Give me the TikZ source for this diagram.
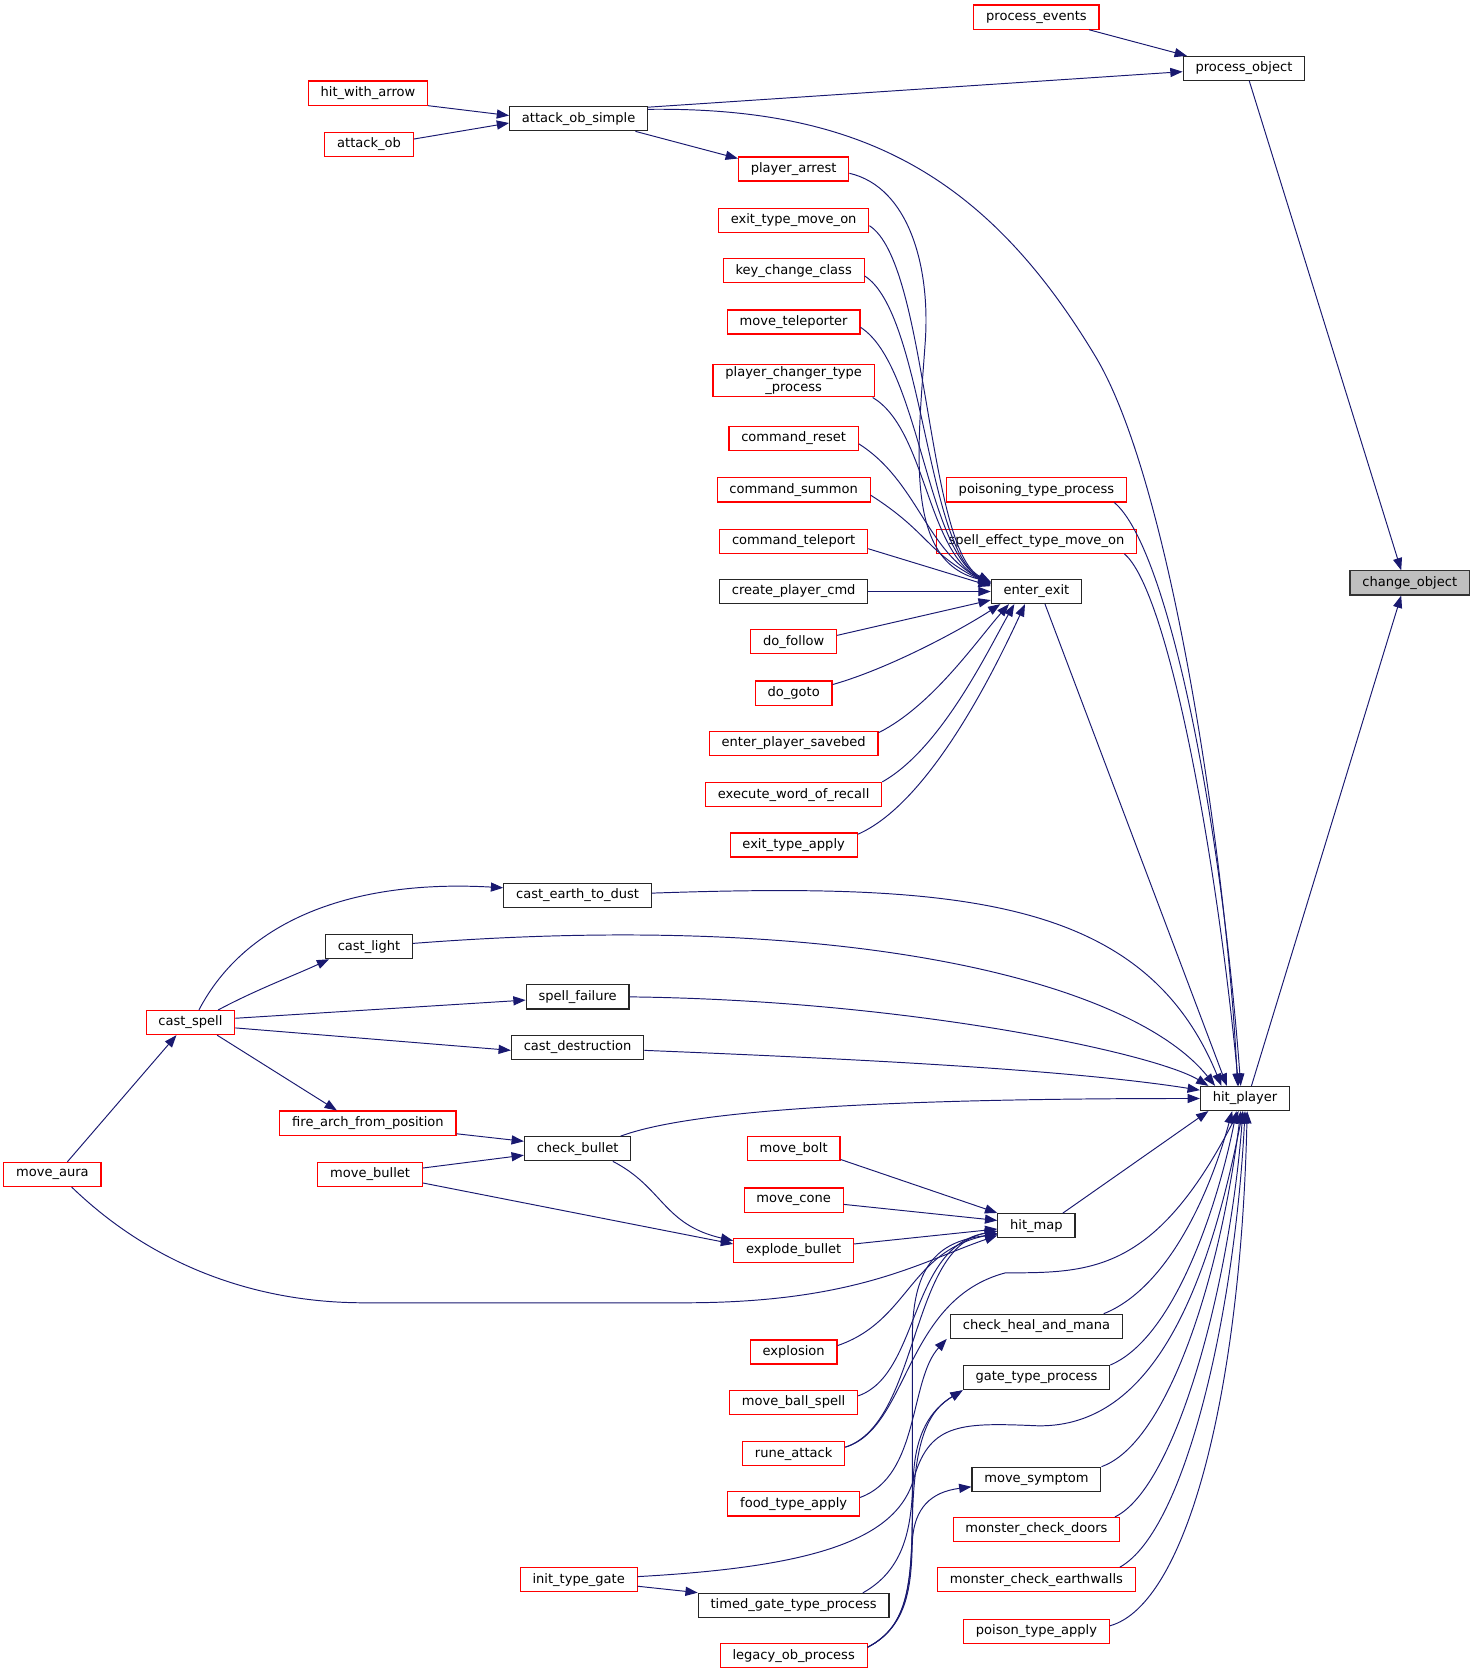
\documentclass[tikz,border=0pt]{standalone}
\usepackage{fontspec}
\setmainfont{DejaVu Sans}
\usepackage{tikz}
\usetikzlibrary{arrows.meta}
\definecolor{edgeblue}{HTML}{191970}
\definecolor{curgray}{HTML}{BFBFBF}
\definecolor{boxred}{HTML}{FF0000}

\begin{document}
\begin{tikzpicture}[x=1pt, y=1pt,
		fn/.style={rectangle, line width=1.1pt, inner xsep=11.5pt, inner ysep=2pt, minimum height=22.5pt, font=\fontsize{12.2}{14}\selectfont, align=center},
		fnred/.style={fn, draw=boxred},
		fnblack/.style={fn, draw=black!85},
		fncur/.style={fn, draw=black!80, fill=curgray},
		edge/.style={draw=edgeblue, line width=0.9pt, -{Triangle[length=11.5pt, width=8.5pt]}}]
			%%%%% START %%%%%
			
			\useasboundingbox (0,0) rectangle (1376,-1566);
			
			% right part
			\node[fnred] (pevents) at (969,-16) {process\_events};
			\node[fnblack] (pobject) at (1163,-64) {process\_object};
			\node[fncur] (change) at (1318,-545) {change\_object};
			\node[fnblack] (hplayer) at (1164,-1027) {hit\_player};
			
			% attack_ob_simple
			\node[fnred] (hwa) at (344,-87) {hit\_with\_arrow};
			\node[fnblack] (aos) at (541,-111) {attack\_ob\_simple};
			\node[fnred] (aob) at (345,-135) {attack\_ob};
			
			% callers of enter_exit
			\node[fnred] (parrest) at (742,-158) {player\_arrest};
			\node[fnred] (etmo) at (742,-206) {exit\_type\_move\_on};
			\node[fnred] (kcc) at (742,-253) {key\_change\_class};
			\node[fnred] (mtel) at (742,-301) {move\_teleporter};
			\node[fnred] (pctp) at (742,-356) {player\_changer\_type\\\_process};
			\node[fnred] (creset) at (742,-410) {command\_reset};
			\node[fnred] (csummon) at (742,-458) {command\_summon};
			\node[fnred] (cteleport) at (742,-506) {command\_teleport};
			\node[fnblack] (cpc) at (742,-553) {create\_player\_cmd};
			\node[fnred] (dfollow) at (742,-600) {do\_follow};
			\node[fnred] (dgoto) at (742,-648) {do\_goto};
			\node[fnred] (eps) at (742,-695) {enter\_player\_savebed};
			\node[fnred] (ewor) at (742,-743) {execute\_word\_of\_recall};
			\node[fnred] (eta) at (742,-790) {exit\_type\_apply};
			\node[fnblack] (eexit) at (969,-553) {enter\_exit};
			\node[fnred] (ptp) at (969,-458) {poisoning\_type\_process};
			\node[fnred] (setmo) at (969,-506) {spell\_effect\_type\_move\_on};
			
			% spells
			\node[fnblack] (cetd) at (540,-837) {cast\_earth\_to\_dust};
			\node[fnblack] (clight) at (345,-885) {cast\_light};
			\node[fnblack] (sfail) at (540,-932) {spell\_failure};
			\node[fnred] (cspell) at (178,-956) {cast\_spell};
			\node[fnblack] (cdest) at (540,-979) {cast\_destruction};
			\node[fnred] (fafp) at (344,-1050) {fire\_arch\_from\_position};
			\node[fnblack] (cbullet) at (540,-1074) {check\_bullet};
			\node[fnred] (maura) at (49,-1098) {move\_aura};
			\node[fnred] (mbullet) at (346,-1098) {move\_bullet};
			
			% hit_map and below
			\node[fnred] (mbolt) at (742,-1074) {move\_bolt};
			\node[fnred] (mcone) at (742,-1122) {move\_cone};
			\node[fnblack] (hmap) at (969,-1146) {hit\_map};
			\node[fnred] (ebullet) at (742,-1169) {explode\_bullet};
			\node[fnred] (explosion) at (742,-1264) {explosion};
			\node[fnblack] (chm) at (969,-1240) {check\_heal\_and\_mana};
			\node[fnred] (mbs) at (742,-1311) {move\_ball\_spell};
			\node[fnblack] (gtp) at (969,-1288) {gate\_type\_process};
			\node[fnred] (rattack) at (742,-1359) {rune\_attack};
			\node[fnblack] (msymptom) at (969,-1383) {move\_symptom};
			\node[fnred] (ftapply) at (742,-1406) {food\_type\_apply};
			\node[fnred] (mcd) at (969,-1430) {monster\_check\_doors};
			\node[fnred] (itgate) at (541,-1477) {init\_type\_gate};
			\node[fnred] (mce) at (969,-1477) {monster\_check\_earthwalls};
			\node[fnblack] (tgtp) at (742,-1501) {timed\_gate\_type\_process};
			\node[fnred] (potapply) at (969,-1525) {poison\_type\_apply};
			\node[fnred] (lop) at (742,-1548) {legacy\_ob\_process};
			
			% to change_object
			\draw[edge] ([xshift=5]pobject.south) -- ([xshift=-8]change.north);
			\draw[edge] ([xshift=6]hplayer.north) -- ([xshift=-8]change.south);
			\draw[edge] ([xshift=-10]pevents.south east) -- ([xshift=4]pobject.north west);
			\draw[edge] ([yshift=-1]aos.north east) -- ([yshift=-3]pobject.west);
			
			% attack_ob_simple
			\draw[edge] (hwa.south east) -- ([yshift=3]aos.west);
			\draw[edge] ([yshift=5]aob.east) -- ([yshift=-4]aos.west);
			\draw[edge] ([xshift=-12]aos.south east) -- ([yshift=-2]parrest.north west);
			\draw[edge] ([yshift=-3]aos.north east) .. controls (800,-100) and (920,-160) .. (1024,-333) .. controls (1097,-454) and (1148,-820) .. ([xshift=-7]hplayer.north);
			
			% enter_exit
			\draw[edge] ([yshift=-4]parrest.east) .. controls (850,-175) and (870,-250) .. (865,-320) .. controls (858,-420) and (845,-525) .. ([yshift=9]eexit.west);
			\foreach \src/\dy in {etmo/9,kcc/8,mtel/8,creset/7,csummon/6}
				\draw[edge] ([yshift=-5]\src.east) .. controls +(55,-35) and +(-60,30) .. ([yshift=\dy]eexit.west);
			\draw[edge] ([xshift=-2]pctp.south east) .. controls +(50,-30) and +(-60,30) .. ([yshift=7]eexit.west);
			\draw[edge] ([yshift=-7]cteleport.east) -- ([yshift=5]eexit.west);
			\draw[edge] (cpc.east) -- (eexit.west);
			\draw[edge] ([yshift=6]dfollow.east) -- ([yshift=-8]eexit.west);
			\draw[edge] ([yshift=8]dgoto.east) .. controls +(53,15) and +(-37,-24) .. ([xshift=9]eexit.south west);
			\draw[edge] ([yshift=10]eps.east) .. controls +(50,25) and +(-30,-34) .. ([xshift=17]eexit.south west);
			\draw[edge] ([yshift=12]ewor.east) .. controls +(55,31) and +(-25,-44) .. ([xshift=22]eexit.south west);
			\draw[edge] ([yshift=10]eta.east) .. controls +(69,30) and +(-25,-54) .. ([xshift=32]eexit.south west);
			
			% to hit_player from above
			\draw[edge] ([xshift=8]eexit.south) -- ([xshift=-17]hplayer.north);
			\draw[edge] ([xshift=-12]ptp.south east) .. controls (1090,-510) and (1140,-750) .. ([xshift=-4]hplayer.north);
			\draw[edge] ([xshift=-12]setmo.south east) .. controls (1090,-550) and (1135,-780) .. ([xshift=-6]hplayer.north);
			\draw[edge] ([yshift=2]cetd.east) .. controls (900,-825) and (1070,-840) .. ([xshift=-22]hplayer.north);
			\draw[edge] ([yshift=3]clight.east) .. controls (800,-850) and (1060,-920) .. ([xshift=-28]hplayer.north);
			\draw[edge] (sfail.east) .. controls (850,-935) and (1080,-985) .. ([xshift=8]hplayer.north west);
			\draw[edge] ([yshift=-3]cdest.east) .. controls (800,-990) and (1000,-1000) .. ([yshift=-4]hplayer.north west);
			\draw[edge] ([xshift=-10]cbullet.north east) .. controls (640,-1040) and (800,-1027) .. (hplayer.west);
			\draw[edge] ([xshift=-12]hmap.north east) -- ([xshift=8]hplayer.south west);
			
			% cast_spell
			\draw[edge] ([xshift=8]cspell.north) .. controls (230,-860) and (330,-822) .. ([yshift=7]cetd.west);
			\draw[edge] ([xshift=26]cspell.north) .. controls (240,-925) and (275,-912) .. ([xshift=4]clight.south west);
			\draw[edge] ([yshift=4]cspell.east) -- ([yshift=-3]sfail.west);
			\draw[edge] ([yshift=-5]cspell.east) -- ([yshift=-3]cdest.west);
			\draw[edge] ([xshift=25]cspell.south) -- ([xshift=-29]fafp.north);
			\draw[edge] ([xshift=14]maura.north) -- ([xshift=-13]cspell.south);
			\draw[edge] ([xshift=18]maura.south) .. controls (150,-1190) and (250,-1218) .. (340,-1218) -- (640,-1218) .. controls (800,-1218) and (860,-1180) .. ([yshift=-9]hmap.west);
			
			% bullets
			\draw[edge] ([yshift=-10]fafp.east) -- ([yshift=7]cbullet.west);
			\draw[edge] ([yshift=6]mbullet.east) -- ([yshift=-6]cbullet.west);
			\draw[edge] ([xshift=33]cbullet.south) .. controls (620,-1110) and (620,-1145) .. ([yshift=9]ebullet.west);
			\draw[edge] ([yshift=-8]mbullet.east) -- ([yshift=6]ebullet.west);
			
			% hit_map
			\draw[edge] ([yshift=-10]mbolt.east) -- ([yshift=12]hmap.west);
			\draw[edge] ([yshift=-4]mcone.east) -- ([yshift=5]hmap.west);
			\draw[edge] ([yshift=6]ebullet.east) -- ([yshift=-3]hmap.west);
			\draw[edge] ([yshift=6]explosion.east) .. controls (850,-1235) and (850,-1170) .. ([yshift=-7]hmap.west);
			\draw[edge] ([yshift=6]mbs.east) .. controls (860,-1285) and (850,-1165) .. ([yshift=-5]hmap.west);
			\draw[edge] ([yshift=6]rattack.east) .. controls (860,-1330) and (850,-1165) .. ([yshift=-5]hmap.west);
			\draw[edge] ([yshift=8]lop.east) .. controls (850,-1520) and (853,-1480) .. (853,-1400) -- (853,-1250) .. controls (853,-1180) and (880,-1160) .. ([yshift=-8]hmap.west);
			
			% lower callers
			\draw[edge] ([yshift=6]rattack.east) .. controls (850,-1335) and (845,-1215) .. (940,-1190) .. controls (1020,-1190) and (1080,-1190) .. ([xshift=-6]hplayer.south);
			\draw[edge] ([yshift=6]ftapply.east) .. controls (860,-1380) and (850,-1290) .. ([xshift=-3]chm.south west);
			\draw[edge] ([xshift=-25]tgtp.north east) .. controls (850,-1465) and (852,-1420) .. (854,-1380) .. controls (856,-1340) and (870,-1318) .. (gtp.south west);
			\draw[edge] ([yshift=8]lop.east) .. controls (850,-1520) and (852,-1480) .. (853,-1420) .. controls (855,-1340) and (870,-1318) .. (gtp.south west);
			\draw[edge] ([yshift=8]lop.east) .. controls (850,-1520) and (852,-1480) .. (853,-1440) .. controls (855,-1410) and (870,-1395) .. ([yshift=-7]msymptom.west);
			\draw[edge] ([yshift=-6]itgate.east) -- ([yshift=12]tgtp.west);
			\draw[edge] ([yshift=3]itgate.east) .. controls (760,-1465) and (840,-1440) .. (855,-1380) .. controls (870,-1330) and (900,-1330) .. (970,-1333) .. controls (1080,-1335) and (1130,-1200) .. ([xshift=-2]hplayer.south);
			
			% to hit_player from below
			\draw[edge] ([xshift=-18]chm.north east) .. controls (1090,-1205) and (1130,-1120) .. ([xshift=-12]hplayer.south);
			\draw[edge] (gtp.north east) .. controls (1100,-1250) and (1140,-1120) .. ([xshift=-8]hplayer.south);
			\draw[edge] (msymptom.north east) .. controls (1090,-1350) and (1140,-1200) .. ([xshift=-4]hplayer.south);
			\draw[edge] ([xshift=-5]mcd.north east) .. controls (1100,-1390) and (1150,-1200) .. ([xshift=-2]hplayer.south);
			\draw[edge] ([xshift=-15]mce.north east) .. controls (1110,-1430) and (1155,-1220) .. (hplayer.south);
			\draw[edge] ([yshift=5]potapply.east) .. controls (1110,-1500) and (1160,-1300) .. ([xshift=2]hplayer.south);
			
			%%%%% END %%%%%
		\end{tikzpicture}
\end{document}
